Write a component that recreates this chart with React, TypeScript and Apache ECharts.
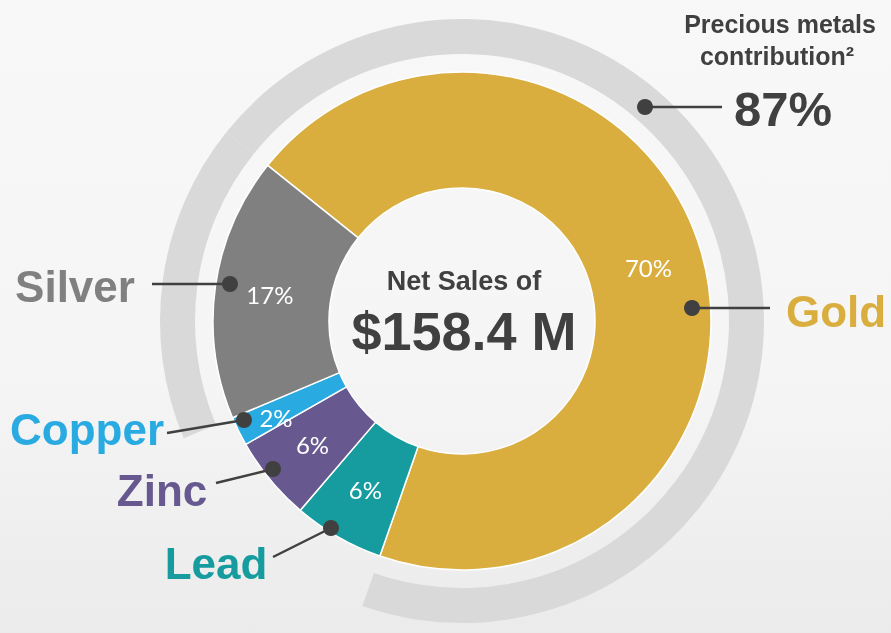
import React, { useEffect, useRef } from "react";
import * as echarts from "echarts";

// ---- data ----
const categories = ["Gold", "Lead", "Zinc", "Copper", "Silver"];
const shares = [69.6, 5.9, 5.5, 1.9, 17.1];
const sliceColors = ["#D9AE3F", "#169C9F", "#67598F", "#29ABE2", "#808080"];
const preciousMetals = ["Gold", "Silver"];
const centerTitle = "Net Sales of";
const centerValue = "$158.4 M";
const preciousTitle = ["Precious metals", "contribution²"];

// ---- layout (annotations) ----
const CX = 462;
const CY = 321;
const nameLabels: Record<string, { tx: number; ty: number; lx: number; ly: number; dx: number; dy: number }> = {
  Silver: { tx: 75, ty: 286, lx: 152, ly: 284, dx: 230, dy: 284 },
  Gold: { tx: 836, ty: 311, lx: 770, ly: 308, dx: 692, dy: 308 },
  Copper: { tx: 87, ty: 429, lx: 167, ly: 433, dx: 244, dy: 420 },
  Zinc: { tx: 162, ty: 490, lx: 216, ly: 483, dx: 273, dy: 469 },
  Lead: { tx: 216, ty: 563, lx: 273, ly: 557, dx: 331, dy: 528 },
};
// labels placed off the slice centre (small slice)
const offCentreLabels: Record<string, { x: number; y: number }> = {
  Copper: { x: 276, y: 417 },
};

const FONT = '"Liberation Sans", Arial, sans-serif';
const PCT_FONT = "Lato, 'Open Sans', sans-serif";
const DARK = "#404040";

function txt(x: number, y: number, text: string, fill: string, font: string, z = 100) {
  return {
    type: "text",
    z,
    x,
    y,
    style: {
      text,
      fill,
      font,
      textAlign: "center",
      align: "center",
      textVerticalAlign: "middle",
      verticalAlign: "middle",
    },
  };
}

export default function App() {
  const ref = useRef<HTMLDivElement>(null);
  useEffect(() => {
    if (!ref.current) return;
    const chart = echarts.init(ref.current, undefined, { renderer: "svg" });
    const total = shares.reduce((a, b) => a + b, 0);
    const preciousShare = categories.reduce(
      (s, c, i) => (preciousMetals.includes(c) ? s + shares[i] : s),
      0
    );
    const startAngle = 141.3;
    const pct = (v: number) => Math.round((v / total) * 100) + "%";

    const graphics: any[] = [];
    graphics.push({
      type: "rect",
      z: -100,
      shape: { x: 0, y: 0, width: 891, height: 633 },
      style: {
        fill: new echarts.graphic.LinearGradient(0, 0, 0, 1, [
          { offset: 0, color: "#f8f8f8" },
          { offset: 0.6, color: "#f5f5f5" },
          { offset: 1, color: "#ebebeb" },
        ]),
      },
    });
    categories.forEach((c, i) => {
      const l = nameLabels[c];
      graphics.push({
        type: "line",
        z: 100,
        shape: { x1: l.lx, y1: l.ly, x2: l.dx, y2: l.dy },
        style: { stroke: DARK, lineWidth: 2.5 },
      });
      graphics.push({
        type: "circle",
        z: 101,
        shape: { cx: l.dx, cy: l.dy, r: 8 },
        style: { fill: DARK },
      });
      graphics.push(txt(l.tx, l.ty, c, sliceColors[i], `bold 44px ${FONT}`));
      const off = offCentreLabels[c];
      if (off) graphics.push(txt(off.x, off.y, pct(shares[i]), "#ffffff", `24px ${PCT_FONT}`, 102));
    });
    // precious metals annotation
    graphics.push({
      type: "line",
      z: 100,
      shape: { x1: 645, y1: 107, x2: 722, y2: 107 },
      style: { stroke: DARK, lineWidth: 2.5 },
    });
    graphics.push({
      type: "circle",
      z: 101,
      shape: { cx: 645, cy: 107, r: 8 },
      style: { fill: DARK },
    });
    graphics.push(txt(780, 24, preciousTitle[0], DARK, `bold 25px ${FONT}`));
    graphics.push(txt(777, 56, preciousTitle[1], DARK, `bold 25px ${FONT}`));
    graphics.push(txt(783, 109, Math.round(preciousShare) + "%", DARK, `bold 49px ${FONT}`));
    // center text
    graphics.push(txt(CX + 2, 281, centerTitle, DARK, `bold 27px ${FONT}`));
    graphics.push(txt(CX + 2, 331, centerValue, DARK, `bold 54px ${FONT}`));

    chart.setOption({
      animation: false,
      graphic: { elements: graphics },
      series: [
        {
          type: "pie",
          center: [CX, CY],
          radius: [267, 302],
          startAngle,
          clockwise: true,
          silent: true,
          label: { show: false },
          labelLine: { show: false },
          data: categories.map((c, i) => ({
            name: c,
            value: shares[i],
            itemStyle: {
              color: preciousMetals.includes(c) ? "#D9D9D9" : "rgba(0,0,0,0)",
              borderWidth: 0,
            },
          })),
        },
        {
          type: "pie",
          center: [CX, CY],
          radius: [133, 249],
          startAngle,
          clockwise: true,
          silent: true,
          itemStyle: { borderColor: "#ffffff", borderWidth: 1.5 },
          label: {
            show: true,
            position: "inside",
            color: "#ffffff",
            fontSize: 24,
            fontFamily: PCT_FONT,
            fontWeight: "normal",
            formatter: (p: any) => pct(p.value),
          },
          labelLine: { show: false },
          data: categories.map((c, i) => ({
            name: c,
            value: shares[i],
            itemStyle: { color: sliceColors[i] },
            label: offCentreLabels[c] ? { show: false } : undefined,
          })),
        },
      ],
    });
    return () => chart.dispose();
  }, []);
  return (
    <div
      ref={ref}
      style={{ position: "fixed", left: 0, top: 0, width: 891, height: 633 }}
    />
  );
}
